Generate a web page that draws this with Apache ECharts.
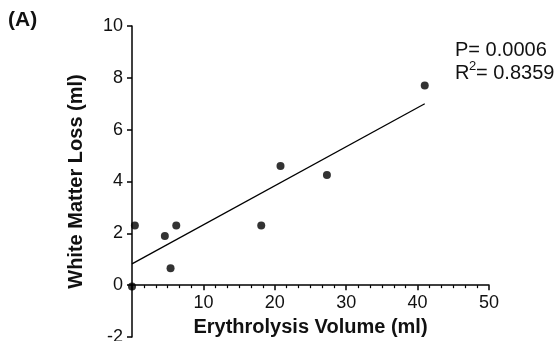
<!DOCTYPE html>
<html>
<head>
<meta charset="utf-8">
<script src="https://cdn.jsdelivr.net/npm/echarts@6/dist/echarts.min.js"></script>
<style>
  html, body { margin: 0; padding: 0; background: #fff; }
  #main { width: 558px; height: 341px; }
</style>
</head>
<body>
<div id="main"></div>
<script>
// 散点数据
var volX = [0, 0.4, 4.6, 5.4, 6.2, 18.1, 20.8, 27.3, 41.0];
var lossY = [-0.05, 2.3, 1.9, 0.65, 2.3, 2.3, 4.6, 4.25, 7.7];
// 回归线端点
var fitX = [0, 41];
var fitY = [0.82, 7.0];
var xTicks = [0, 10, 20, 30, 40, 50];
var yTicks = [-2, 0, 2, 4, 6, 8, 10];
var statP = '0.0006';
var statR2 = '0.8359';

var font = '"Liberation Sans", Arial, Helvetica, sans-serif';
var myChart = echarts.init(document.getElementById('main'));

var pts = [];
for (var i = 0; i < volX.length; i++) pts.push([volX[i], lossY[i]]);
var fit = [];
for (var j = 0; j < fitX.length; j++) fit.push([fitX[j], fitY[j]]);

// 网格尺寸，用来把x轴挪到 y=0 处
var gTop = 26, gBottom = 4, H = 341;
var yMin = yTicks[0], yMax = yTicks[yTicks.length - 1];
var gh = H - gTop - gBottom;
var zeroOffset = -gh * (0 - yMin) / (yMax - yMin);

var option = {
  animation: false,
  backgroundColor: '#fff',
  grid: { left: 132, right: 69, top: gTop, bottom: gBottom, containLabel: false, outerBoundsMode: 'none' },
  xAxis: {
    type: 'value',
    min: xTicks[0],
    max: xTicks[xTicks.length - 1],
    interval: 10,
    offset: zeroOffset,
    splitLine: { show: false },
    axisLine: { onZero: false, lineStyle: { color: '#000', width: 1.5 } },
    axisTick: { length: 5, lineStyle: { color: '#000', width: 1.5 } },
    minorTick: { show: true, splitNumber: 6, length: 3, lineStyle: { color: '#000', width: 1.2 } },
    axisLabel: {
      color: '#111', fontSize: 18, fontFamily: font, margin: 9,
      formatter: function (v) { return v === 0 ? '' : v; }
    },
    name: 'Erythrolysis Volume (ml)',
    nameLocation: 'middle',
    nameGap: 28,
    nameTextStyle: { color: '#111', fontSize: 20, fontWeight: 'bold', fontFamily: font }
  },
  yAxis: {
    type: 'value',
    min: yMin,
    max: yMax,
    interval: 2,
    splitLine: { show: false },
    axisLine: { onZero: false, lineStyle: { color: '#000', width: 1.5 } },
    axisTick: { length: 5, lineStyle: { color: '#000', width: 1.5 } },
    axisLabel: { color: '#111', fontSize: 18, fontFamily: font, margin: 9 },
    name: 'White Matter Loss (ml)',
    nameLocation: 'middle',
    nameGap: 46,
    nameTextStyle: { color: '#111', fontSize: 20, fontWeight: 'bold', fontFamily: font }
  },
  series: [
    {
      type: 'line',
      data: fit,
      symbol: 'none',
      lineStyle: { color: '#000', width: 1.3 },
      z: 2
    },
    {
      type: 'scatter',
      data: pts,
      symbolSize: 8,
      itemStyle: { color: '#000' },
      z: 3
    }
  ],
  graphic: [
    {
      type: 'text', left: 8, top: 10,
      style: { text: '(A)', fontSize: 21, fontWeight: 'bold', fontFamily: font, fill: '#111' }
    },
    {
      type: 'text', left: 455, top: 40,
      style: { text: 'P= ' + statP, fontSize: 20, fontFamily: font, fill: '#111' }
    },
    {
      type: 'text', left: 455, top: 63,
      style: { text: 'R', fontSize: 20, fontFamily: font, fill: '#111' }
    },
    {
      type: 'text', left: 469, top: 60,
      style: { text: '2', fontSize: 13, fontFamily: font, fill: '#111' }
    },
    {
      type: 'text', left: 476, top: 63,
      style: { text: '= ' + statR2, fontSize: 20, fontFamily: font, fill: '#111' }
    }
  ]
};
myChart.setOption(option);
</script>
</body>
</html>
